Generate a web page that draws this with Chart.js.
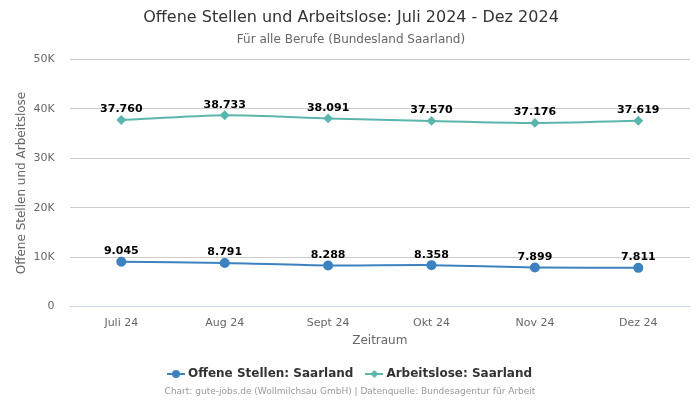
<!DOCTYPE html>
<html>
<head>
<meta charset="utf-8">
<script src="https://cdn.jsdelivr.net/npm/chart.js@4"></script>
<style>
  html, body { margin: 0; padding: 0; background: #fff; }
  #wrap { width: 700px; height: 400px; position: relative; }
</style>
</head>
<body>
<div id="wrap"><canvas id="myChart"></canvas></div>
<script>
const months = ['Juli 24', 'Aug 24', 'Sept 24', 'Okt 24', 'Nov 24', 'Dez 24'];
const offeneStellen = [9045, 8791, 8288, 8358, 7899, 7811];
const arbeitslose = [37760, 38733, 38091, 37570, 37176, 37619];
const yTicks = [0, 10000, 20000, 30000, 40000, 50000];

const blue = '#3d82c0';
const teal = '#5ab5ad';
const font = 'DejaVu Sans';

function fmt(n) {
  return String(n).replace(/\B(?=(\d{3})+(?!\d))/g, '.');
}

// legend symbol: short line with marker in the middle
function legendIcon(color, shape) {
  const c = document.createElement('canvas');
  c.width = 18; c.height = 10;
  const ctx = c.getContext('2d');
  ctx.strokeStyle = color;
  ctx.lineWidth = 2;
  ctx.beginPath();
  ctx.moveTo(0, 5); ctx.lineTo(18, 5);
  ctx.stroke();
  ctx.fillStyle = color;
  ctx.beginPath();
  if (shape === 'circle') {
    ctx.arc(9, 5, 4, 0, Math.PI * 2);
  } else {
    ctx.moveTo(9, 1); ctx.lineTo(13, 5); ctx.lineTo(9, 9); ctx.lineTo(5, 5);
    ctx.closePath();
  }
  ctx.fill();
  return c;
}

// values above the points
const valueLabels = {
  id: 'valueLabels',
  afterDatasetsDraw(chart) {
    const ctx = chart.ctx;
    ctx.save();
    ctx.font = 'bold 11px ' + font;
    ctx.fillStyle = '#000';
    ctx.textAlign = 'center';
    ctx.textBaseline = 'bottom';
    chart.data.datasets.forEach((ds, i) => {
      chart.getDatasetMeta(i).data.forEach((pt, j) => {
        ctx.fillText(fmt(ds.data[j]), pt.x, pt.y - 5);
      });
    });
    ctx.restore();
  }
};

// credit line at the bottom
const credits = {
  id: 'credits',
  afterDraw(chart) {
    const ctx = chart.ctx;
    ctx.save();
    ctx.font = '9px ' + font;
    ctx.fillStyle = '#999';
    ctx.textAlign = 'center';
    ctx.textBaseline = 'middle';
    ctx.fillText('Chart: gute-jobs.de (Wollmilchsau GmbH) | Datenquelle: Bundesagentur für Arbeit', chart.width / 2, 392);
    ctx.restore();
  }
};

const data = {
  labels: months,
  datasets: [{
    label: 'Offene Stellen: Saarland',
    data: offeneStellen,
    borderColor: blue,
    backgroundColor: blue,
    borderWidth: 2,
    pointStyle: 'circle',
    pointRadius: 4,
    pointHoverRadius: 4,
    tension: 0.25
  }, {
    label: 'Arbeitslose: Saarland',
    data: arbeitslose,
    borderColor: teal,
    backgroundColor: teal,
    borderWidth: 2,
    pointStyle: 'rectRot',
    pointRadius: 3.5,
    pointHoverRadius: 3.5,
    tension: 0.25
  }]
};

const icons = [legendIcon(blue, 'circle'), legendIcon(teal, 'diamond')];

const config = {
  type: 'line',
  data: data,
  plugins: [valueLabels, credits],
  options: {
    responsive: true,
    maintainAspectRatio: false,
    animation: false,
    layout: { padding: { left: 12, right: 10, top: 0, bottom: 10 } },
    scales: {
      x: {
        offset: true,
        grid: { display: false },
        border: { color: '#ccd6eb' },
        ticks: { color: '#666', font: { family: font, size: 11 }, padding: 2 },
        title: { display: true, text: 'Zeitraum', color: '#666', font: { family: font, size: 12 }, padding: { top: 2, bottom: 5 } }
      },
      y: {
        min: 0,
        max: 50000,
        afterBuildTicks(axis) { axis.ticks = yTicks.map(v => ({ value: v })); },
        grid: { color: '#cccccc', drawTicks: false },
        border: { display: false },
        ticks: {
          color: '#666',
          font: { family: font, size: 11 },
          padding: 15,
          callback: v => v === 0 ? '0' : (v / 1000) + 'K'
        },
        title: { display: true, text: 'Offene Stellen und Arbeitslose', color: '#666', font: { family: font, size: 12 }, padding: { top: 3, bottom: -11 } }
      }
    },
    plugins: {
      title: {
        display: true,
        text: 'Offene Stellen und Arbeitslose: Juli 2024 - Dez 2024',
        color: '#333',
        font: { family: font, size: 16, weight: 'normal' },
        padding: { top: 8, bottom: 5 }
      },
      subtitle: {
        display: true,
        text: 'Für alle Berufe (Bundesland Saarland)',
        color: '#666',
        font: { family: font, size: 12 },
        padding: { bottom: 13 }
      },
      legend: {
        position: 'bottom',
        labels: {
          color: '#333',
          font: { family: font, size: 12, weight: 'bold' },
          usePointStyle: true,
          padding: 15,
          generateLabels(chart) {
            return chart.data.datasets.map((ds, i) => ({
              text: ds.label,
              fillStyle: ds.borderColor,
              strokeStyle: ds.borderColor,
              pointStyle: icons[i],
              fontColor: '#333',
              datasetIndex: i,
              hidden: false
            }));
          }
        }
      },
      tooltip: { enabled: false }
    }
  }
};

const myChart = new Chart(document.getElementById('myChart'), config);
</script>
</body>
</html>
